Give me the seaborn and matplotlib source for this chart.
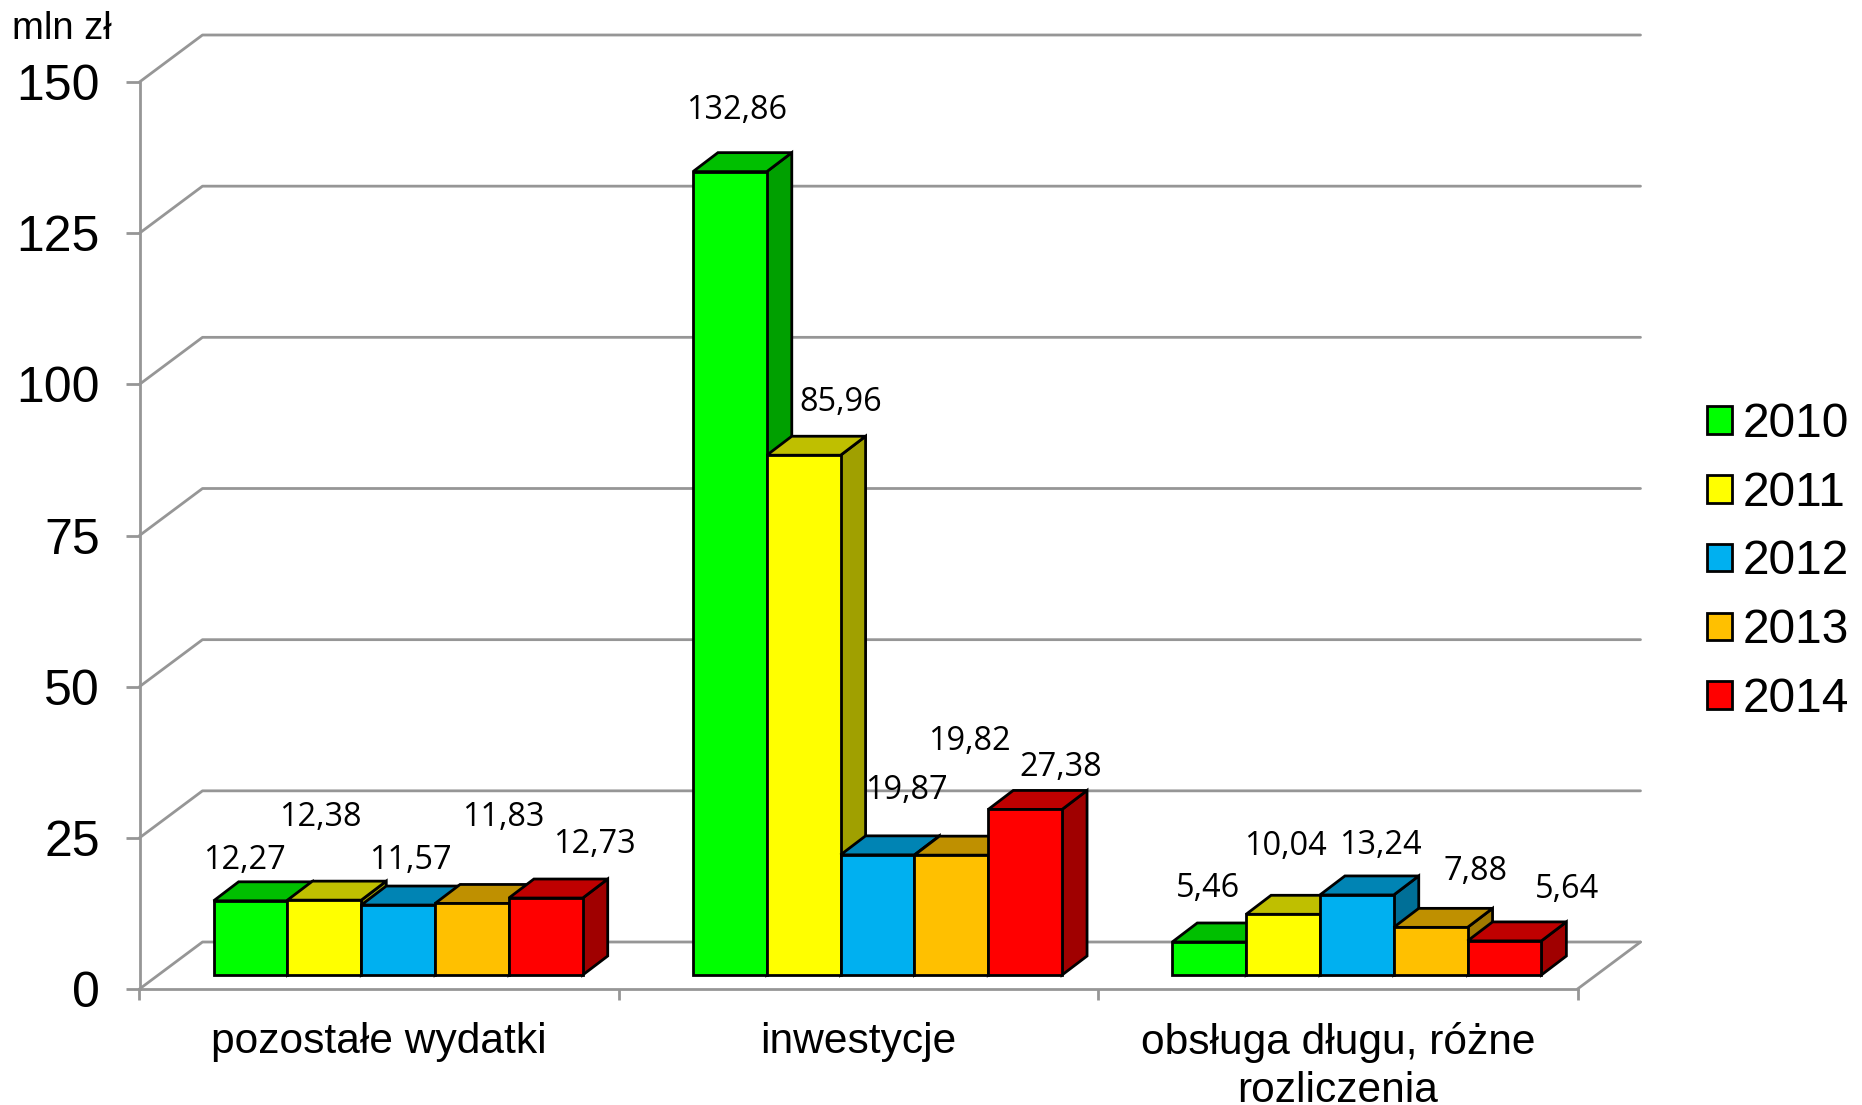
import matplotlib
matplotlib.use('Agg')
import matplotlib.pyplot as plt
from matplotlib.patches import Polygon
from matplotlib.transforms import Affine2D, IdentityTransform
import seaborn as sns
import pandas as pd

# Dane
kategorie = ['pozostałe wydatki', 'inwestycje', 'obsługa długu, różne\nrozliczenia']
lata = ['2010', '2011', '2012', '2013', '2014']
v2010 = [12.27, 132.86, 5.46]
v2011 = [12.38, 85.96, 10.04]
v2012 = [11.57, 19.87, 13.24]
v2013 = [11.83, 19.82, 7.88]
v2014 = [12.73, 27.38, 5.64]
y_ticks = [0, 25, 50, 75, 100, 125, 150]

# Kolory: przód, góra, bok
front = ['#00FF00', '#FFFF00', '#00B0F0', '#FFC000', '#FF0000']
top = ['#00BF00', '#BFBF00', '#0084B4', '#BF9000', '#BF0000']
side = ['#00A000', '#A0A000', '#006F97', '#A07900', '#A00000']
szary = '#969696'

# Przesunięcia etykiet w pikselach względem środka góry słupka (rok, kategoria)
label_off = [
    [(-6, 40), (7, 61), (-1, 53)],
    [(-4, 83), (37, 53), (2, 68)],
    [(12, 45), (29, 64), (24, 49)],
    [(31, 86), (18, 114), (45, 56)],
    [(49, 54), (36, 42), (63, 51)],
]

# Geometria "3D" w pikselach
W, H = 1862, 1105
DEPTH = (63, 47)  # głębokość tylnej ściany
SHIFT = (19, 14)  # przesunięcie słupków względem osi
BAR_D = (25, 19)  # głębokość słupka

sns.set_style('white')
plt.rcParams['font.family'] = ['Liberation Sans', 'DejaVu Sans']
plt.rcParams['text.color'] = 'black'
plt.rcParams['xtick.labelcolor'] = 'black'
plt.rcParams['ytick.labelcolor'] = 'black'

df = pd.DataFrame({'kategoria': kategorie, '2010': v2010, '2011': v2011,
                   '2012': v2012, '2013': v2013, '2014': v2014})
df = df.melt(id_vars='kategoria', var_name='rok', value_name='mln')

fig = plt.figure(figsize=(W / 100, H / 100), dpi=100)
ax = fig.add_axes([139.5 / W, (H - 989) / H, (1577.5 - 139.5) / W, (989 - 82) / H])

sns.barplot(data=df, x='kategoria', y='mln', hue='rok', hue_order=lata,
            palette=front, saturation=1, width=0.77, gap=0, dodge=True,
            edgecolor='black', linewidth=2, ax=ax)
ax.set_xlim(-0.5, 2.5)
ax.set_ylim(0, 150)
ax.set_xlabel('')
ax.set_ylabel('')
ax.patch.set_alpha(0)
fig.canvas.draw()

data_to_px = ax.transData.transform
shift = Affine2D().translate(*SHIFT)
pix = IdentityTransform()

# Tylna ściana i podłoga
for t in y_ticks:
    x0, y0 = data_to_px((-0.5, t))
    x1, y1 = data_to_px((2.5, t))
    ax.plot([x0, x0 + DEPTH[0], x1 + DEPTH[0]], [y0, y0 + DEPTH[1], y1 + DEPTH[1]],
            color=szary, lw=2, transform=pix, clip_on=False, zorder=1)
x1, y1 = data_to_px((2.5, 0))
ax.plot([x1, x1 + DEPTH[0]], [y1, y1 + DEPTH[1]], color=szary, lw=2,
        transform=pix, clip_on=False, zorder=1)

# Słupki 3D
for j, cont in enumerate(ax.containers):
    for i, bar in enumerate(cont):
        xa, ya = data_to_px((bar.get_x(), bar.get_y()))
        xb, yb = data_to_px((bar.get_x() + bar.get_width(), bar.get_height()))
        xa, xb = xa + SHIFT[0], xb + SHIFT[0]
        ya, yb = ya + SHIFT[1], yb + SHIFT[1]
        dx, dy = BAR_D
        ax.add_patch(Polygon([(xb, ya), (xb + dx, ya + dy), (xb + dx, yb + dy), (xb, yb)],
                             closed=True, fc=side[j], ec='black', lw=2,
                             transform=pix, clip_on=False, zorder=3 + j * 3))
        ax.add_patch(Polygon([(xa, yb), (xa + dx, yb + dy), (xb + dx, yb + dy), (xb, yb)],
                             closed=True, fc=top[j], ec='black', lw=2,
                             transform=pix, clip_on=False, zorder=4 + j * 3))
        bar.set_transform(ax.transData + shift)
        bar.set_clip_on(False)
        bar.set_zorder(5 + j * 3)
        ox, oy = label_off[j][i]
        ax.text((xa + xb) / 2 + ox, yb + oy, f'{bar.get_height():.2f}'.replace('.', ','),
                transform=pix, ha='center', va='center', fontsize=23.4,
                family=['Open Sans', 'DejaVu Sans'], color='black', zorder=30)

# Osie
for s in ['top', 'right']:
    ax.spines[s].set_visible(False)
for s in ['left', 'bottom']:
    ax.spines[s].set_color(szary)
    ax.spines[s].set_linewidth(2)
    ax.spines[s].set_zorder(2)

ax.set_yticks(y_ticks)
ax.tick_params(axis='y', left=True, length=10, width=2, color=szary, pad=18.5, labelsize=36)
ax.set_xticks([-0.5, 0.5, 1.5, 2.5], labels=[])
ax.set_xticks([0, 1, 2], labels=kategorie, minor=True)
ax.tick_params(axis='x', which='major', bottom=True, length=8, width=2, color=szary)
ax.tick_params(axis='x', which='minor', bottom=False, length=0, pad=24, labelsize=30.6)
for lab in ax.get_xticklabels(minor=True):
    lab.set_linespacing(1.24)

# Legenda
handles, labels = ax.get_legend_handles_labels()
for h in handles:
    h.set_linewidth(2)
ax.legend(handles, labels, loc='center left', frameon=False,
          bbox_to_anchor=(1707 / W, (H - 562) / H), bbox_transform=fig.transFigure,
          fontsize=34.5, handlelength=0.52, handleheight=0.52, handletextpad=0.23,
          labelspacing=0.5, borderpad=0, borderaxespad=0)

fig.text(12 / W, (H - 29) / H, 'mln zł', fontsize=27.5, ha='left', va='center')

fig.savefig('out.png', dpi=100)
